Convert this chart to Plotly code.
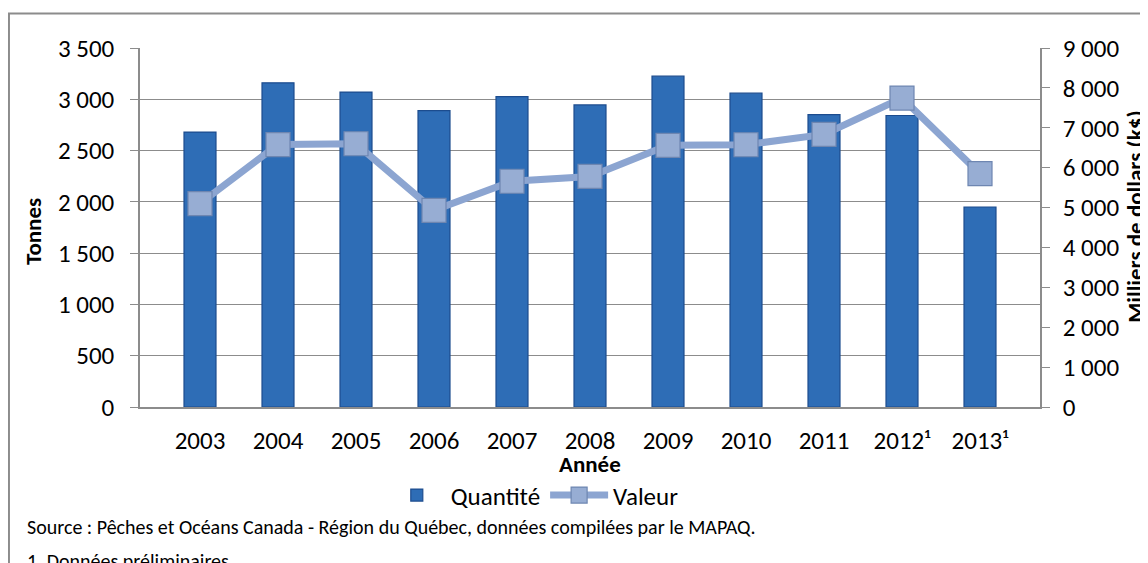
import plotly.graph_objects as go

years = ["2003", "2004", "2005", "2006", "2007", "2008", "2009", "2010", "2011", "2012¹", "2013¹"]
quantite = [2680, 3160, 3070, 2890, 3025, 2945, 3225, 3060, 2850, 2842, 1950]
valeur = [5100, 6580, 6600, 4930, 5660, 5780, 6560, 6575, 6835, 7745, 5850]

FONT = "Carlito, Lato, 'Open Sans', sans-serif"
GRID = "#8c8c8c"
TICK = 25

fig = go.Figure()
fig.add_trace(go.Bar(
    x=years, y=quantite, name="Quantité",
    width=0.41,
    marker=dict(color="#2E6DB6", line=dict(color="#1C4C8E", width=1.2)),
    yaxis="y",
))
fig.add_trace(go.Scatter(
    x=years, y=valeur, name="Valeur", mode="lines+markers",
    line=dict(color="#8CA5D1", width=7),
    marker=dict(symbol="square", size=24, color="#97ADD3",
                line=dict(color="#6E86B1", width=1.2)),
    yaxis="y2",
))

fig.update_layout(
    width=1140, height=555,
    margin=dict(l=132, r=108, t=40, b=156),
    paper_bgcolor="white", plot_bgcolor="white",
    separators=", ",
    font=dict(family=FONT, size=TICK, color="black"),
    showlegend=True,
    legend=dict(orientation="h", x=0.437, xanchor="center", y=-0.246, yanchor="middle",
                font=dict(size=TICK), itemwidth=58, bgcolor="rgba(0,0,0,0)"),
    xaxis=dict(type="category", showgrid=False, showline=True, linecolor=GRID, linewidth=1.5,
               ticks="", ticklabelstandoff=10, tickfont=dict(size=TICK)),
    yaxis=dict(range=[0, 3500], dtick=500, tickformat=",d", showgrid=True, gridcolor=GRID,
               gridwidth=1.2, showline=True, linecolor=GRID, linewidth=1.5, ticks="outside",
               ticklen=8, tickcolor=GRID, ticklabelstandoff=11, zeroline=False,
               tickfont=dict(size=TICK)),
    yaxis2=dict(range=[0, 9000], dtick=1000, tickformat=",d", overlaying="y", side="right",
                showgrid=False, showline=True, linecolor=GRID, linewidth=1.5, ticks="outside",
                ticklen=8, tickcolor=GRID, ticklabelstandoff=8, zeroline=False,
                tickfont=dict(size=TICK)),
    bargap=0.59,
)

annotations = [
    dict(text="<b>Tonnes</b>", x=-0.119, y=0.49, xref="paper", yref="paper", textangle=-90,
         showarrow=False, font=dict(size=23), xanchor="center", yanchor="middle"),
    dict(text="<b>Milliers de dollars (k$)</b>", x=1.106, y=0.531, xref="paper", yref="paper",
         textangle=-90, showarrow=False, font=dict(size=23), xanchor="center", yanchor="middle"),
    dict(text="<b>Année</b>", x=0.5, y=-0.16, xref="paper", yref="paper", showarrow=False,
         font=dict(size=23), xanchor="center", yanchor="middle"),
    dict(text="Source : Pêches et Océans Canada - Région du Québec, données compilées par le MAPAQ.",
         x=-0.128, y=-0.335, xref="paper", yref="paper", showarrow=False,
         font=dict(size=20), xanchor="left", yanchor="middle"),
    dict(text="1. Données préliminaires",
         x=-0.128, y=-0.43, xref="paper", yref="paper", showarrow=False,
         font=dict(size=20), xanchor="left", yanchor="middle"),
]
fig.update_layout(annotations=annotations)

fig.add_shape(type="rect", xref="paper", yref="paper",
              x0=-0.1456, x1=1.3, y0=-0.6, y1=1.0964,
              line=dict(color="#8c8c8c", width=2), fillcolor="rgba(0,0,0,0)", layer="below")

fig.write_html("out.html")
